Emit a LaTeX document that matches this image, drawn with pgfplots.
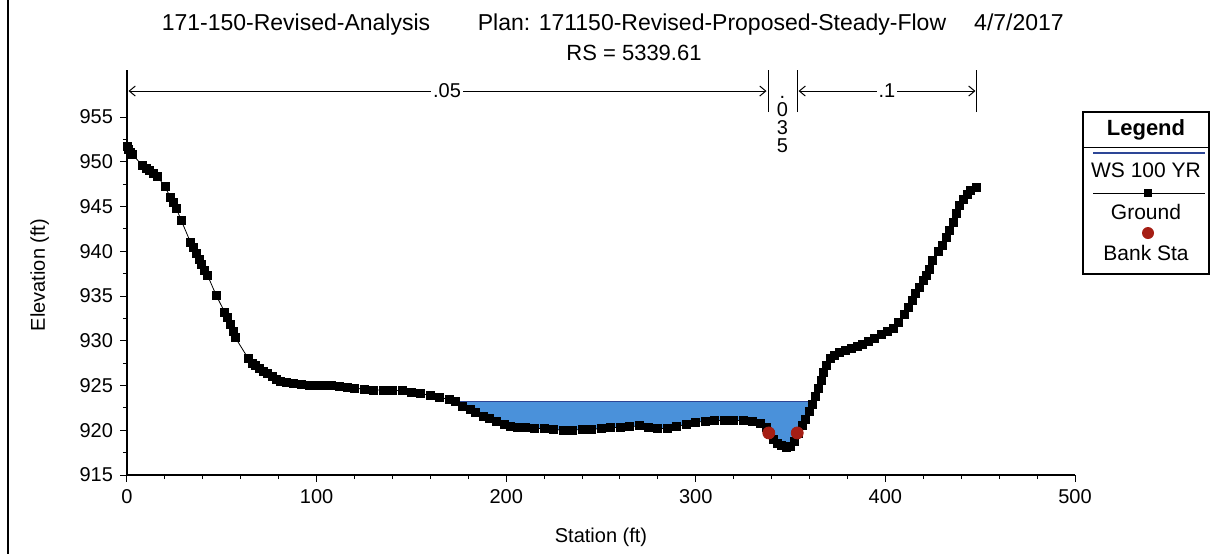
\documentclass[border=0pt]{standalone}
\usepackage{fontspec}
\setmainfont{Liberation Sans}
\usepackage{pgfplots}
\pgfplotsset{compat=1.18}
\usetikzlibrary{arrows.meta}
\definecolor{water}{RGB}{74,145,218}
\definecolor{wsline}{RGB}{45,70,150}
\definecolor{bank}{RGB}{165,30,20}
\begin{document}
\begin{tikzpicture}
\path[use as bounding box] (0,0) rectangle (608.5pt,-277pt);
% window frame line
\draw[line width=1pt] (4.2pt,0) -- (4.2pt,-277pt);
% titles
\node[anchor=base,inner sep=0] at (148pt,-15.25pt) {\fontsize{11.5}{13}\selectfont 171-150-Revised-Analysis};
\node[anchor=base,inner sep=0] at (356pt,-15.25pt) {\fontsize{11.5}{13}\selectfont Plan: 171150-Revised-Proposed-Steady-Flow};
\node[anchor=base,inner sep=0] at (509.5pt,-15.25pt) {\fontsize{11.5}{13}\selectfont 4/7/2017};
\node[anchor=base,inner sep=0] at (317pt,-30pt) {\fontsize{11}{13}\selectfont RS = 5339.61};
\begin{axis}[
  at={(63.5pt,-237.5pt)}, anchor=south west,
  scale only axis, width=474pt, height=202.5pt,
  xmin=0, xmax=500, ymin=915, ymax=960.25,
  axis x line*=bottom, axis y line*=left,
  axis line style={line width=0.65pt},
  xtick={0,100,...,500}, ytick={915,920,...,955},
  minor x tick num=4, minor y tick num=1,
  tick align=outside, major tick length=3.5pt, minor tick length=2pt,
  tick style={black, line width=0.5pt},
  /pgf/number format/assume math mode=true,
  tick label style={font=\fontsize{10}{12}\selectfont},
  xlabel={Station (ft)}, ylabel={Elevation (ft)},
  label style={font=\fontsize{10}{12}\selectfont},
  xlabel style={at={(axis description cs:0.5,-0.153)}, anchor=center},
  ylabel style={at={(axis description cs:-0.092,0.494)}, anchor=center},
  clip=false,
]
% water area
\addplot[draw=none, fill=water] coordinates {
(173,923.2) (177,922.7) (181,922.3) (184,922.0) (188,921.6) (191,921.3) (195,921.0) (199,920.7)
(202,920.4) (206,920.3) (210,920.3) (215,920.2) (220,920.2) (225,920.1) (230,920.0) (235,920.0)
(240,920.1) (245,920.1) (250,920.2) (255,920.3) (260,920.3) (265,920.4) (270,920.5) (275,920.3)
(280,920.2) (285,920.2) (290,920.4) (295,920.7) (300,920.9) (305,921.0) (310,921.1) (315,921.1)
(320,921.1) (325,921.1) (330,921.0) (334,920.8) (337,920.3) (339,919.7) (341,919.0) (343,918.5)
(345,918.3) (348,918.1) (350,918.2) (352,918.8) (354,919.7) (356,920.5) (358,921.2) (360,922.1)
(361.5,922.9) (362,923.2)} -- cycle;
% water surface line
\addplot[wsline, line width=0.6pt] coordinates {(173,923.2) (362,923.2)};
% ground
\addplot[black, line width=0.4pt, mark=square*, mark size=2pt] table {
0 951.7
1 951.4
2 951.1
3 950.8
8 949.6
10 949.3
12 949.0
14 948.7
16 948.4
20 947.2
23 946.0
24.5 945.5
26 944.8
28.5 943.5
33.5 941.0
35 940.4
36.5 939.8
38 939.1
39.5 938.5
41 937.9
42.5 937.3
47 935.1
51.5 933.2
53 932.6
54.5 931.8
56 931.0
57 930.4
64 928.0
66 927.5
67.5 927.2
70 926.9
72 926.6
74 926.3
76.5 926.0
79 925.7
81 925.5
84 925.4
88 925.2
92 925.1
96 925.0
100 925.0
104 925.0
108 925.0
112 924.9
116 924.8
120 924.7
125 924.6
130 924.5
135 924.5
140 924.5
145 924.4
150 924.2
155 924.1
160 923.9
165 923.7
170 923.4
173 923.2
177 922.7
181 922.3
184 922.0
188 921.6
191 921.3
195 921.0
199 920.7
202 920.4
206 920.3
210 920.3
215 920.2
220 920.2
225 920.1
230 920.0
235 920.0
240 920.1
245 920.1
250 920.2
255 920.3
260 920.3
265 920.4
270 920.5
275 920.3
280 920.2
285 920.2
290 920.4
295 920.7
300 920.9
305 921.0
310 921.1
315 921.1
320 921.1
325 921.1
330 921.0
334 920.8
337 920.3
339 919.7
341 919.0
343 918.5
345 918.3
348 918.1
350 918.2
352 918.8
354 919.7
356 920.5
358 921.2
360 922.1
361.5 922.9
363 923.8
364.5 924.7
366 925.6
367.5 926.5
369 927.3
371 928.0
373 928.4
376 928.7
379 928.9
382 929.1
385 929.4
388 929.6
391 929.9
394 930.3
398 930.7
401 931.0
404 931.4
407 932.0
410 933.0
412 933.7
414 934.5
416 935.3
418 936.0
420 936.7
421.5 937.3
423 938.0
425 939.0
428 940.0
430 940.7
432 941.5
434 942.3
436 943.2
437.5 944.2
439 945.1
441 945.8
443 946.4
445 946.8
448 947.1
};
% bank stations
\addplot[only marks, mark=*, mark size=3pt, bank] coordinates {(338.5,919.7) (353.5,919.7)};
% Manning n annotation
\draw[line width=0.5pt] (axis cs:0,955.55) -- (axis cs:0,960.25);
\draw[line width=0.5pt] (axis cs:338.1,955.55) -- (axis cs:338.1,960.25);
\draw[line width=0.5pt] (axis cs:353.4,955.55) -- (axis cs:353.4,960.25);
\draw[line width=0.5pt] (axis cs:448.3,955.55) -- (axis cs:448.3,960.25);
\draw[line width=0.5pt, {Straight Barb[length=3pt,width=5pt]}-{Straight Barb[length=3pt,width=5pt]}] (axis cs:0.8,957.9) -- (axis cs:337.3,957.9);
\draw[line width=0.5pt, {Straight Barb[length=3pt,width=5pt]}-{Straight Barb[length=3pt,width=5pt]}] (axis cs:354.2,957.9) -- (axis cs:447.5,957.9);
\node[fill=white, inner sep=1pt, font=\fontsize{10}{12}\selectfont] at (axis cs:168.8,957.9) {.05};
\node[fill=white, inner sep=1pt, font=\fontsize{10}{12}\selectfont] at (axis cs:400.8,957.9) {.1};
\node[anchor=north, inner sep=0, align=center, font=\fontsize{10}{9}\selectfont] at (axis cs:345.7,957.4) {.\\0\\3\\5};
\end{axis}
% legend
\draw[line width=0.6pt] (541.5pt,-56pt) rectangle (604.5pt,-137pt);
\draw[line width=0.5pt] (541.5pt,-73.5pt) -- (604.5pt,-73.5pt);
\node[font=\fontsize{11}{12}\selectfont\bfseries] at (573pt,-64.75pt) {Legend};
\draw[wsline, line width=0.6pt] (546.5pt,-76.5pt) -- (602.5pt,-76.5pt);
\node[font=\fontsize{10.5}{12}\selectfont] at (573pt,-85pt) {WS 100 YR};
\draw[line width=0.4pt] (546.5pt,-96.5pt) -- (602.5pt,-96.5pt);
\fill (574pt,-96.5pt) +(-1.8pt,-1.8pt) rectangle +(1.8pt,1.8pt);
\node[font=\fontsize{10.5}{12}\selectfont] at (573pt,-106pt) {Ground};
\fill[bank] (574pt,-116.5pt) circle (3pt);
\node[font=\fontsize{10.5}{12}\selectfont] at (573pt,-126.5pt) {Bank Sta};
\end{tikzpicture}
\end{document}
